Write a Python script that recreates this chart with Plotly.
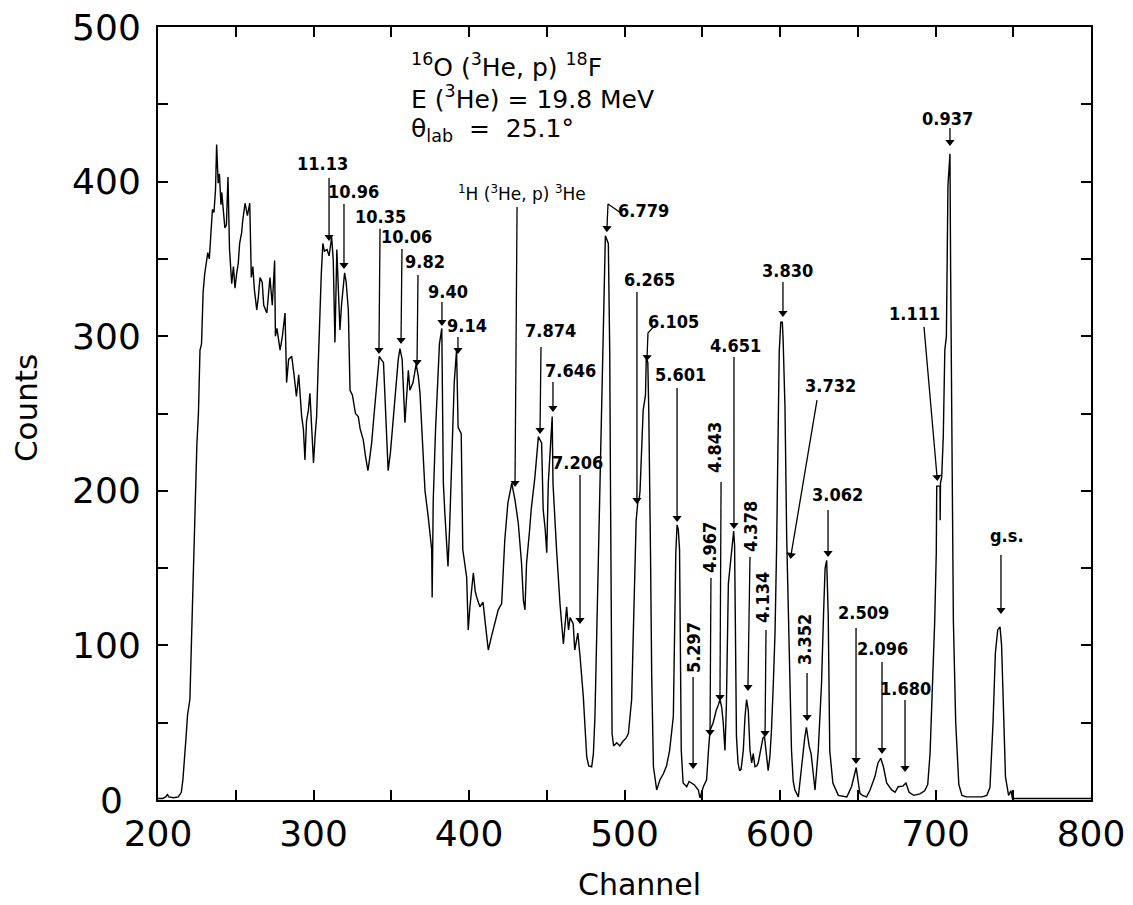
import math
import plotly.graph_objects as go

# ---------------- spectrum data (channel, counts) ----------------
channel = [200,203,205,206,207,210,213,215,216,217,218,219,220.5,222,223.8,225,226,227,228,229,230,231,232,233,234,235,236,237,237.7,238.7,239.5,240.5,241,242,243,244,245,246,247.4,248.5,249.5,250.5,251.6,252.5,253.8,254.5,256,257.5,259,260,261,262,263.5,264.5,265.6,267,268,270,271,272,273.5,275,275.5,276.5,278.5,280,281.7,282.7,284,286,287.5,289,290.5,292.4,293.5,294.5,295.5,296.7,297.7,299,300,301,302,303,304,305,306,307,308.7,310,311.7,312.7,313.8,315,316,317,318,320,321,322.4,323.5,325,327,328.8,330,332,333.5,335,336,337.4,339,340.6,342.3,343.5,345,346,347,348,349.5,351.3,353,354.5,355.6,357,358.8,360,361,362,364,366,367.4,368.5,370,371.7,373.8,376,376.3,377,378.5,380,381,382.5,383,383.5,384.5,385.5,386.5,387.5,389,390.5,392,393,395,396,398.5,399.5,400.6,402.8,404,405,407,409,411.4,412.4,414.5,416.7,418.8,421,423,425,426,427.5,429.6,431.7,433.8,435,436,437,439,440,442.4,443.5,444.6,446.7,447.7,449,450,451,452,453.5,454,455,456.3,458.5,460.7,462.8,464,465,467,468,470,471.4,473.5,475.7,477,478.9,480,481,482,483,484.6,486.3,487,487.7,489.6,490.5,491,491.6,492,493,495,497,499,501,502.5,504.6,506,506.8,507.5,508.5,509.5,510,511,512,513.5,514,515,515.6,516.7,517.5,518.6,520.7,522.8,525,527,529,531.4,532.5,533,533.8,534.6,535.4,536,536.5,537.7,540,541.5,543,545,547.5,548.5,550.7,552.8,554,555,557,559,560.5,561.4,562.5,563.5,564.6,565.5,566.8,567.8,569,570.2,570.8,571.6,572,573,574,575,576.4,577.5,578.5,579.6,580.7,581.8,582.8,583.9,585,586,588,589,590,591.4,592.4,593.5,594.5,595.7,596.8,597.8,598.9,599.5,600.5,601.5,602,603.2,604.3,605.3,606.4,607.4,608.5,609.6,611.8,613.8,616,617,618.2,618.8,620,621.4,622.5,624.6,626.7,628,629,630,631,632,634,637.5,643,646,648,649,650.4,651.4,653,655.7,657.9,661,663,664.8,666.5,668.6,671.8,674,676,679,681,683,686,690,693,695,696.5,698,699.5,700.5,700.8,702.9,703,703.2,704,705,706,707,708,709.3,709.7,710.4,711,711.5,713,715,717,720,725,730,733,735,737,738.5,740,741.5,742.5,743.5,745,747,748.5,749.5,760,780,800]
counts = [1,1,2,3.5,2,1.5,2,5,13,25,40,55,65,120,196,230,250,291,295,328,340,347,354,350,370,382,380,395,424,399,405,385,393,380,370,372,403,356,334,345,331,340,347,360,367,375,386,378,386,338,345,330,317,325,338,335,320,315,325,338,320,349,300,305,291,300,315,270,285,287,275,261,275,248,240,220,245,252,263,240,218,235,248,280,315,340,360,355,356,352,364,349,296,356,330,304,320,341,335,317,265,262,250,248,240,233,222,213,220,231,250,270,287,285,283,260,237,213,225,248,270,285,292,285,244,260,278,265,270,282,274,263,230,200,183,162,131,194,240,278,295,305,260,205,185,165,151,175,230,270,291,241,237,162,144,110,125,147,135,131,125,128,106,97,106,114,123,127,168,192,198,205,194,179,153,129,123,153,175,188,209,225,235,231,188,175,160,205,225,248,205,185,162,127,101,125,110,118,114,97,108,93,67,28,22,21.5,30,54,100,162,240,300,340,365,360,290,200,80,43,35,37,35,38,40,43,65,120,162,181,192,195,200,230,252,262,286,283,252,162,80,21.5,6.5,13,17,22,32,54,129,160,178,175,162,100,32,11,8.6,12,11,9.7,6.5,1.3,8.6,13,32,45,50,58,62,65,60,50,32,60,140,151,165,174,165,97,41,24,19,20,32,54,65,58,32,24,30,21.5,22,24,34.5,40,41,30,19,28,45,75,108,162,267,290,309,309,298,254,170,121,80,32,12,6.5,2,21.5,41,47,38,34.5,30,15,6.5,32,75,120,150,155,120,32,11,3,2,8.6,17,21,11,4.3,3,2,6.5,15,24,27,21.5,11,6.5,5,8.6,9,11,5,3,4,6,10,30,70,116,160,203,203,181,205,209,235,291,300,397,418,347,250,150,116,50,10,3,2,2,2,3,8,50,95,110,112,100,60,15,3,6,1,1,1,1]

# ---------------- tick labels ----------------
x_tick_vals = [200, 300, 400, 500, 600, 700, 800]
y_tick_vals = [0, 100, 200, 300, 400, 500]
y_tick_text = ["0\u2002", "100", "200", "300", "400", "500"]

# ---------------- peak labels ----------------
peak_text = ["11.13", "10.96", "10.35", "10.06", "9.82", "9.40", "9.14",
             "7.874", "7.646", "7.206", "6.265", "5.601", "4.651",
             "4.843", "4.967", "4.378", "4.134", "5.297",
             "3.830", "3.732", "3.062", "3.352", "2.509", "2.096", "1.680",
             "1.111", "0.937", "g.s."]
label_x = [306.1, 325.4, 342.8, 359.5, 371.7, 386.5, 398.7,
           452.7, 465.0, 469.5, 515.8, 535.7, 571.1,
           558.2, 554.3, 581.4, 588.4, 544.1,
           605.1, 632.2, 636.7, 616.1, 653.4, 665.6, 680.4,
           686.2, 708.0, 746.0]
label_y = [412.0, 393.9, 377.7, 364.2, 348.0, 328.6, 307.2,
           303.4, 278.1, 218.0, 337.0, 275.5, 294.3,
           227.7, 163.6, 176.6, 131.3, 98.3,
           342.8, 268.4, 197.3, 103.5, 121.6, 98.3, 72.4,
           315.0, 441.1, 171.4]
rotated = [False]*13 + [True]*5 + [False, False, False, True, False, False, False,
                                   False, False, False]
tail_x = [310.0, 319.6, 342.8, 356.9, 367.2, 382.6, 392.9,
          446.3, 454.0, 471.4, 508.0, 533.8, 570.4,
          562.1, 555.6, 580.7, 591.0, 544.1,
          601.9, 623.8, 630.9, 617.4, 648.9, 665.6, 680.4,
          692.6, 709.3, 742.1]
tail_y = [402.3, 385.5, 369.5, 356.4, 339.6, 322.1, 299.5,
          293.0, 270.4, 210.2, 328.6, 266.5, 286.5,
          205.7, 143.6, 157.2, 110.0, 79.6,
          335.1, 258.7, 187.6, 82.1, 111.3, 89.3, 64.7,
          306.0, 434.7, 158.5]
tip_x = [310.0, 319.6, 342.1, 356.3, 366.6, 382.6, 392.9,
         445.7, 454.0, 471.4, 508.0, 533.8, 570.4,
         561.4, 555.0, 579.4, 590.4, 544.1,
         601.9, 607.1, 630.9, 617.4, 648.9, 665.6, 680.4,
         701.0, 709.3, 742.1]
tip_y = [364.2, 346.1, 291.1, 297.5, 283.3, 309.2, 291.1,
         239.3, 253.6, 116.4, 194.0, 182.4, 177.9,
         66.6, 44.0, 73.1, 43.3, 22.6,
         315.0, 158.5, 159.8, 53.7, 25.9, 32.3, 20.7,
         208.9, 425.6, 122.9]

# hooked labels (6.779, 6.105)
hook_text = ["6.779", "6.105"]
hook_label_x = [511.9, 531.2]
hook_label_y = [381.0, 309.2]
hook_start_x = [497.7, 519.6]
hook_start_y = [379.7, 307.2]
hook_corner_x = [489.4, 515.1]
hook_corner_y = [385.5, 302.1]
hook_tip_x = [488.7, 514.5]
hook_tip_y = [369.9, 286.5]

# hydrogen contaminant
h_label = "<sup>1</sup>H (<sup>3</sup>He, p) <sup>3</sup>He"
h_label_pos = (434.1, 392.6)
h_tail = (430.9, 383.6)
h_tip = (429.6, 205.0)

header_lines = ["<sup>16</sup>O (<sup>3</sup>He, p) <sup>18</sup>F",
                "E (<sup>3</sup>He) = 19.8 MeV",
                "θ<sub>lab</sub>  =  25.1°"]
header_x = 361.5
header_y = [475.4, 454.7, 433.4]

# ---------------- figure ----------------
X_RANGE = [200, 800]
Y_RANGE = [0, 500]
PLOT_W, PLOT_H = 933, 773
px_per_x = PLOT_W / (X_RANGE[1] - X_RANGE[0])
px_per_y = PLOT_H / (Y_RANGE[1] - Y_RANGE[0])

fig = go.Figure()
fig.add_trace(go.Scatter(x=channel, y=counts, mode="lines",
                         line=dict(color="black", width=1.4),
                         hoverinfo="skip", showlegend=False))

# arrow shafts
sx, sy = [], []
for i in range(len(peak_text)):
    sx += [tail_x[i], tip_x[i], None]
    sy += [tail_y[i], tip_y[i], None]
for i in range(len(hook_text)):
    sx += [hook_start_x[i], hook_corner_x[i], hook_tip_x[i], None]
    sy += [hook_start_y[i], hook_corner_y[i], hook_tip_y[i], None]
sx += [h_tail[0], h_tip[0], None]
sy += [h_tail[1], h_tip[1], None]
fig.add_trace(go.Scatter(x=sx, y=sy, mode="lines", line=dict(color="black", width=1.3),
                         hoverinfo="skip", showlegend=False))

# arrow heads
hx = tip_x + hook_tip_x + [h_tip[0]]
hy = tip_y + hook_tip_y + [h_tip[1]]
fx = tail_x + hook_corner_x + [h_tail[0]]
fy = tail_y + hook_corner_y + [h_tail[1]]
angles = []
for a, b, c, d in zip(fx, fy, hx, hy):
    dxp = (c - a) * px_per_x
    dyp = (b - d) * px_per_y  # downward positive on screen
    angles.append(-math.degrees(math.atan2(dxp, dyp)))
fig.add_trace(go.Scatter(x=hx, y=hy, mode="markers",
                         marker=dict(symbol="triangle-down", size=8, color="black",
                                     angle=angles, line=dict(width=0)),
                         hoverinfo="skip", showlegend=False))

lab_font = dict(family="Liberation Sans Narrow, DejaVu Sans Condensed, Arial Narrow, DejaVu Sans",
                size=18, color="black")
annotations = []
for i, t in enumerate(peak_text):
    annotations.append(dict(x=label_x[i], y=label_y[i], xref="x", yref="y",
                            text="<b>%s</b>" % t, showarrow=False,
                            textangle=-90 if rotated[i] else 0,
                            font=lab_font, xanchor="center", yanchor="middle"))
for i, t in enumerate(hook_text):
    annotations.append(dict(x=hook_label_x[i], y=hook_label_y[i], xref="x", yref="y",
                            text="<b>%s</b>" % t, showarrow=False, font=lab_font))
annotations.append(dict(x=h_label_pos[0], y=h_label_pos[1], xref="x", yref="y",
                        text=h_label, showarrow=False,
                        font=dict(family="DejaVu Sans", size=17, color="black")))
for yy, t in zip(header_y, header_lines):
    annotations.append(dict(x=header_x, y=yy, xref="x", yref="y", text=t,
                            showarrow=False, xanchor="left", yanchor="middle",
                            font=dict(family="DejaVu Sans", size=25, color="black")))

# axis titles
annotations.append(dict(x=0.5166, y=-0.1087, xref="paper", yref="paper", text="Channel",
                        showarrow=False, xanchor="center", yanchor="middle",
                        font=dict(family="DejaVu Sans", size=30, color="black")))
annotations.append(dict(x=-0.1415, y=0.507, xref="paper", yref="paper", text="Counts",
                        showarrow=False, textangle=-90, xanchor="center", yanchor="middle",
                        font=dict(family="DejaVu Sans", size=31, color="black")))

axis_common = dict(showline=True, linewidth=2, linecolor="black", mirror="ticks",
                   ticks="inside", ticklen=10, tickwidth=2, tickcolor="black",
                   showgrid=False, zeroline=False, ticklabeloverflow="allow",
                   automargin=False,
                   tickfont=dict(family="DejaVu Sans", size=36, color="black"),
                   minor=dict(dtick=50, ticks="inside", ticklen=10, tickwidth=2,
                              tickcolor="black", showgrid=False))

fig.update_layout(
    width=1133, height=905,
    margin=dict(l=150, r=50, t=19, b=113, autoexpand=False),
    paper_bgcolor="white", plot_bgcolor="white",
    xaxis=dict(range=X_RANGE, tickvals=x_tick_vals, ticklabelstandoff=1, **axis_common),
    yaxis=dict(range=Y_RANGE, tickvals=y_tick_vals, ticktext=y_tick_text,
               ticklabelstandoff=8, **axis_common),
    annotations=annotations, showlegend=False,
)

fig.write_html("out.html")
